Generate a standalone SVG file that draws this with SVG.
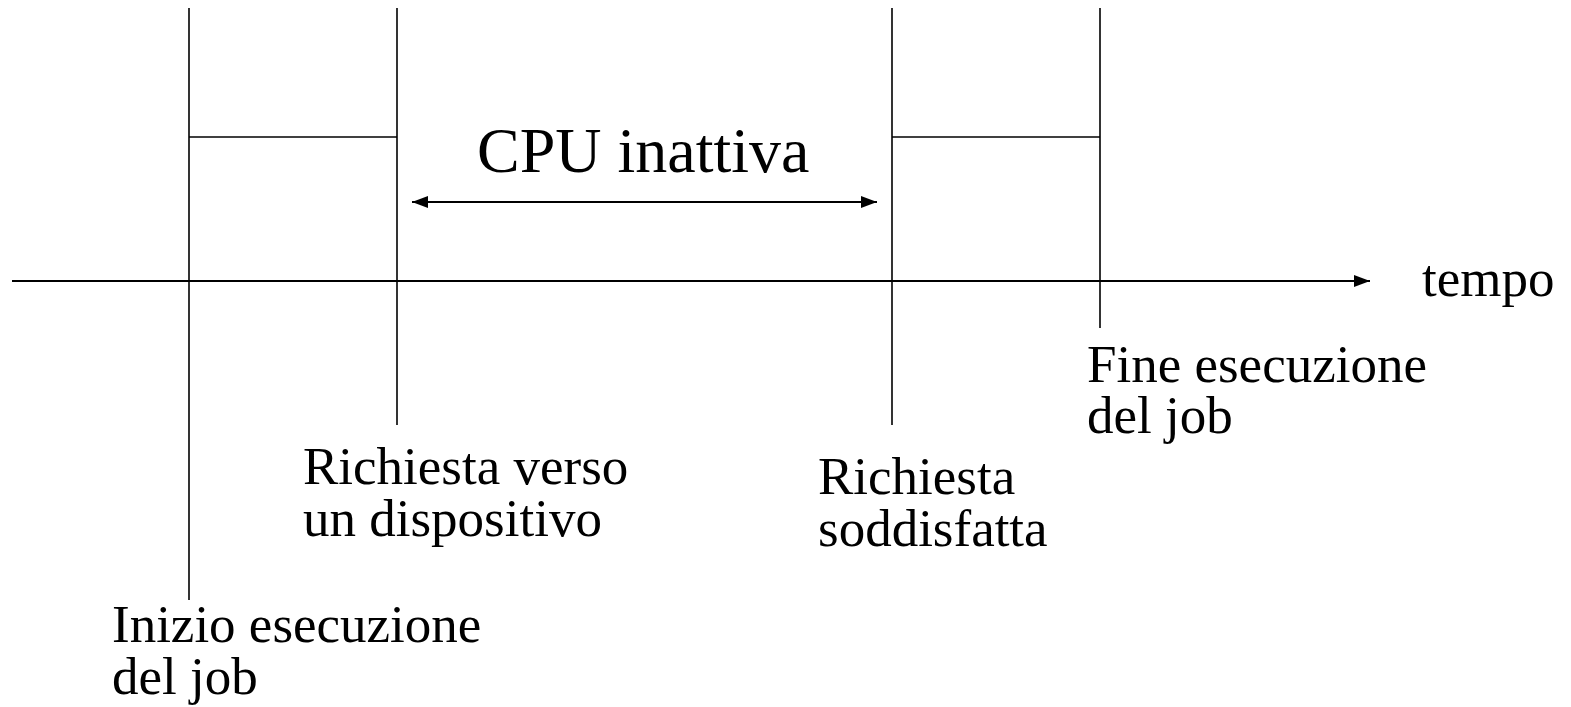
<svg xmlns="http://www.w3.org/2000/svg" width="1571" height="707" viewBox="0 0 1571 707">
<style>
.ln{stroke:#000;stroke-width:1.6;fill:none}
.ax{stroke:#000;stroke-width:2.2;fill:none}
text{font-family:"Liberation Serif","Times New Roman",serif;fill:#000;font-size:53px}
.big{font-size:64px}
</style>
<defs>
<marker id="ah" markerUnits="userSpaceOnUse" markerWidth="18" markerHeight="14" refX="16" refY="6" orient="auto-start-reverse" viewBox="0 0 18 12">
<path d="M0,0 L16,6 L0,12 Z" fill="#000"/>
</marker>
</defs>
<g id="connectors">
<line class="ax" x1="12" y1="281" x2="1370" y2="281" marker-end="url(#ah)"/>
<line class="ln" x1="189" y1="8" x2="189" y2="600"/>
<line class="ln" x1="397" y1="8" x2="397" y2="425"/>
<line class="ln" x1="892" y1="8" x2="892" y2="425"/>
<line class="ln" x1="1100" y1="8" x2="1100" y2="328"/>
<line class="ln" x1="189" y1="137" x2="397" y2="137"/>
<line class="ln" x1="892" y1="137" x2="1100" y2="137"/>
<line class="ax" x1="412" y1="202" x2="877" y2="202" marker-start="url(#ah)" marker-end="url(#ah)"/>
</g>
<g id="cpu-inattiva"><text class="big" x="477" y="172">CPU inattiva</text></g>
<g id="tempo"><text x="1422" y="296">tempo</text></g>
<g id="inizio"><text x="112" y="642">Inizio esecuzione</text><text x="112" y="694">del job</text></g>
<g id="richiesta"><text x="303" y="484">Richiesta verso</text><text x="303" y="536">un dispositivo</text></g>
<g id="soddisfatta"><text x="818" y="494">Richiesta</text><text x="818" y="546">soddisfatta</text></g>
<g id="fine"><text x="1087" y="382">Fine esecuzione</text><text x="1087" y="433">del job</text></g>
</svg>
